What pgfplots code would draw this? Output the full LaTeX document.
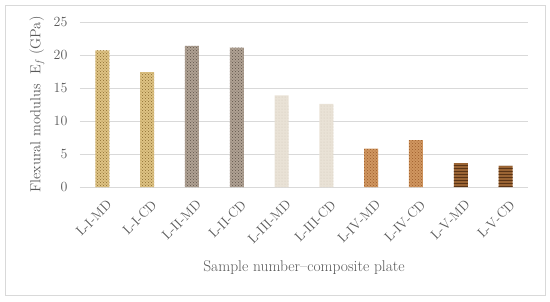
\documentclass[border=0pt]{standalone}
\usepackage{pgfplots}
\pgfplotsset{compat=1.18}
\usetikzlibrary{patterns}
\definecolor{txt}{HTML}{595959}
\definecolor{gridc}{HTML}{D9D9D9}
\definecolor{c1}{HTML}{DEC384}\definecolor{p1}{HTML}{8B6A2E}
\definecolor{c2}{HTML}{B0A294}\definecolor{p2}{HTML}{5E5248}
\definecolor{c3}{HTML}{E9E2D6}\definecolor{p3}{HTML}{D2C8B8}
\definecolor{c4}{HTML}{D09660}\definecolor{p4}{HTML}{9C5C2A}
\definecolor{c5}{HTML}{9A6434}\definecolor{p5}{HTML}{5A3416}
\begin{document}
\begin{tikzpicture}
\path[use as bounding box] (0pt,0pt) rectangle (550pt,301pt);
\draw[gridc, line width=1pt] (5.5pt,6pt) rectangle (545pt,295.5pt);
\begin{axis}[
  at={(80pt,114pt)}, anchor=south west,
  scale only axis, width=448pt, height=165pt,
  xmin=-0.5, xmax=9.5, ymin=0, ymax=25,
  ytick={0,5,...,25},
  xtick={0,...,9},
  xticklabels={L-I-MD,L-I-CD,L-II-MD,L-II-CD,L-III-MD,L-III-CD,L-IV-MD,L-IV-CD,L-V-MD,L-V-CD},
  xticklabel style={rotate=45, anchor=north east, font=\fontsize{13.5}{15}\selectfont, text=txt, inner sep=0pt, xshift=-6pt, yshift=-11pt},
  yticklabel style={font=\fontsize{14}{16}\selectfont, text=txt, xshift=-9pt},
  /pgf/number format/assume math mode=true,
  axis line style={draw=none},
  major tick length=0pt,
  ymajorgrids, grid style={gridc, line width=0.8pt},
  xlabel={Sample number--composite plate},
  ylabel={Flexural modulus\ \ E\textsubscript{\textit{f}} (GPa)},
  every axis x label/.style={at={(axis description cs:0.5,-0.49)}, anchor=center, font=\fontsize{15.5}{17}\selectfont, text=txt},
  every axis y label/.style={at={(axis description cs:-0.096,0.5)}, rotate=90, anchor=center, font=\fontsize{14.5}{16}\selectfont, text=txt},
  ybar, bar width=14pt, bar shift=0pt,
  clip=false,
]
\addplot[draw=none, fill=c1, postaction={pattern=crosshatch dots, pattern color=p1}] coordinates {(0,20.7) (1,17.4)};
\addplot[draw=none, fill=c2, postaction={pattern=crosshatch dots, pattern color=p2}] coordinates {(2,21.4) (3,21.1)};
\addplot[draw=none, fill=c3, postaction={pattern=dots, pattern color=p3}] coordinates {(4,13.9) (5,12.6)};
\addplot[draw=none, fill=c4, postaction={pattern=crosshatch dots, pattern color=p4}] coordinates {(6,5.8) (7,7.1)};
\addplot[draw=none, fill=c5, postaction={pattern=horizontal lines, pattern color=p5}] coordinates {(8,3.6) (9,3.2)};
\end{axis}
\end{tikzpicture}
\end{document}
